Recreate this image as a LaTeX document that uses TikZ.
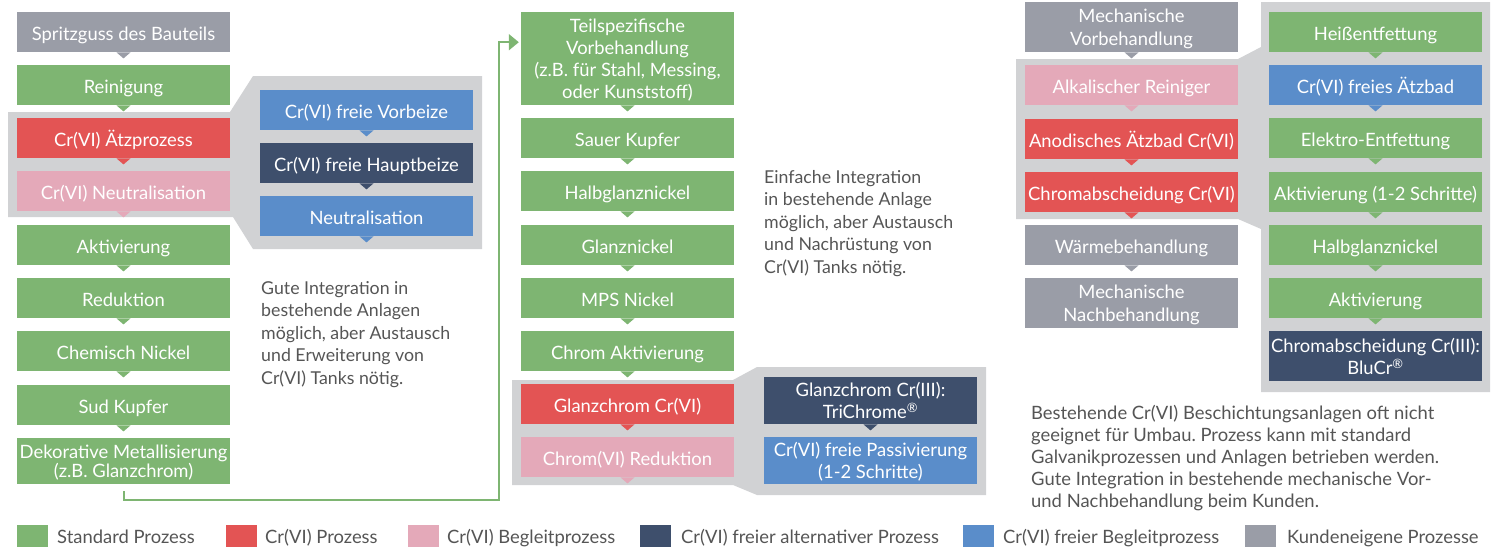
\documentclass[tikz,border=0pt]{standalone}
\usepackage{fontspec}
\setmainfont{Lato}
\usetikzlibrary{arrows.meta,calc}
\definecolor{cgreen}{HTML}{7EB572}
\definecolor{cred}{HTML}{E35454}
\definecolor{cpink}{HTML}{E4A9B9}
\definecolor{cnavy}{HTML}{3E4F6C}
\definecolor{cblue}{HTML}{5A8DCA}
\definecolor{cgray}{HTML}{9A9DA7}
\definecolor{cpanel}{HTML}{D1D2D4}
\definecolor{ctext}{HTML}{555555}
\newcommand\ptab[2]{\fill[#2] ([xshift=-7pt]#1.south) -- ([xshift=7pt]#1.south) -- ([yshift=-6pt]#1.south) -- cycle;}
\tikzset{
  box/.style={minimum width=213pt, minimum height=40pt, inner sep=0pt, text=white,
    align=center, anchor=north, text height=15.6pt, text depth=0pt,
    font=\fontsize{18.4}{21.5}\selectfont\frenchspacing},
  mbox/.style={box, text height=, text depth=-3pt},
  panel/.style={fill=cpanel},
  desc/.style={anchor=north west, inner sep=0pt, align=left, text=ctext,
    font=\fontsize{17.75}{22.5}\selectfont\frenchspacing},
  legsq/.style={anchor=north west, minimum width=31pt, minimum height=22pt, inner sep=0pt},
  legtxt/.style={anchor=base west, inner sep=0pt, text=ctext, font=\fontsize{18.4}{21}\selectfont},
  conn/.style={draw=cgreen, line width=2pt, -{Triangle[length=10pt,width=16pt]}}
}
\begin{document}
\begin{tikzpicture}[x=1pt,y=-1pt]
\useasboundingbox (0,0) rectangle (1496,547);
% panels
\fill[panel] (8,112) -- (230,112) -- (253,76) -- (482,76) -- (482,249) -- (253,249) -- (233,217) -- (8,217) -- cycle;
\fill[panel] (512,380) -- (733,380) -- (757,367) -- (986,367) -- (986,495) -- (757,495) -- (733,485) -- (512,485) -- cycle;
\fill[panel] (1016,59) -- (1238,59) -- (1261,47) -- (1261,2) -- (1490,2) -- (1490,392) -- (1261,392) -- (1261,229) -- (1238,219) -- (1016,219) -- cycle;
% column 1
\node[box, fill=cgray] (s1) at (123.5,12) {Spritzguss des Bauteils};
\node[box, fill=cgreen] (s2) at (123.5,65) {Reinigung};
\node[box, fill=cred] (s3) at (123.5,118) {Cr(VI) Ätzprozess};
\node[box, fill=cpink] (s4) at (123.5,171) {Cr(VI) Neutralisation};
\node[box, fill=cgreen] (s5) at (123.5,225) {Aktivierung};
\node[box, fill=cgreen] (s6) at (123.5,278) {Reduktion};
\node[box, fill=cgreen] (s7) at (123.5,331) {Chemisch Nickel};
\node[box, fill=cgreen] (s8) at (123.5,385) {Sud Kupfer};
\node[mbox, fill=cgreen, minimum height=46pt, font=\fontsize{18.4}{18.4}\selectfont] (s9) at (123.5,438) {Dekorative Metallisierung\\(z.B. Glanzchrom)};
\ptab{s1}{cgray}\ptab{s2}{cgreen}\ptab{s3}{cred}\ptab{s4}{cpink}\ptab{s5}{cgreen}
\ptab{s6}{cgreen}\ptab{s7}{cgreen}\ptab{s8}{cgreen}
\node[box, fill=cblue] (a1) at (366.5,90) {Cr(VI) freie Vorbeize};
\node[box, fill=cnavy] (a2) at (366.5,143) {Cr(VI) freie Hauptbeize};
\node[box, fill=cblue] (a3) at (366.5,196) {Neutralisation};
\ptab{a1}{cblue}\ptab{a2}{cnavy}\ptab{a3}{cblue}
\node[desc] (d1) at (261,281) {Gute Integration in\\bestehende Anlagen\\möglich, aber Austausch\\und Erweiterung von\\Cr(VI) Tanks nötig.};
% column 2
\node[mbox, fill=cgreen, minimum height=93pt, font=\fontsize{18.4}{22}\selectfont] (m1) at (627.5,12) {Teilspezifische\\Vorbehandlung\\(z.B. für Stahl, Messing,\\oder Kunststoff)};
\node[box, fill=cgreen] (m2) at (627.5,118) {Sauer Kupfer};
\node[box, fill=cgreen] (m3) at (627.5,171) {Halbglanznickel};
\node[box, fill=cgreen] (m4) at (627.5,225) {Glanznickel};
\node[box, fill=cgreen] (m5) at (627.5,278) {MPS Nickel};
\node[box, fill=cgreen] (m6) at (627.5,331) {Chrom Aktivierung};
\node[box, fill=cred] (m7) at (627.5,384) {Glanzchrom Cr(VI)};
\node[box, fill=cpink] (m8) at (627.5,437) {Chrom(VI) Reduktion};
\ptab{m1}{cgreen}\ptab{m2}{cgreen}\ptab{m3}{cgreen}\ptab{m4}{cgreen}\ptab{m5}{cgreen}
\ptab{m6}{cgreen}\ptab{m7}{cred}\ptab{m8}{cpink}
\node[mbox, fill=cnavy, minimum height=47pt, font=\fontsize{18.4}{22}\selectfont] (b1) at (870.5,377) {Glanzchrom Cr(III):\\TriChrome\textsuperscript{®}};
\node[mbox, fill=cblue, minimum height=47pt, font=\fontsize{18.4}{22}\selectfont] (b2) at (870.5,437) {Cr(VI) freie Passivierung\\(1-2 Schritte)};
\ptab{b1}{cnavy}
\node[desc] (d2) at (764,170) {Einfache Integration\\in bestehende Anlage\\möglich, aber Austausch\\und Nachrüstung von\\Cr(VI) Tanks nötig.};
% column 3
\node[mbox, fill=cgray, minimum height=50pt, font=\fontsize{18.4}{22.5}\selectfont] (r1) at (1131.5,2) {Mechanische\\Vorbehandlung};
\node[box, fill=cpink] (r2) at (1131.5,65) {Alkalischer Reiniger};
\node[box, fill=cred] (r3) at (1131.5,119) {Anodisches Ätzbad Cr(VI)};
\node[box, fill=cred] (r4) at (1131.5,172) {Chromabscheidung Cr(VI)};
\node[box, fill=cgray] (r5) at (1131.5,225) {Wärmebehandlung};
\node[mbox, fill=cgray, minimum height=50pt, font=\fontsize{18.4}{22.5}\selectfont] (r6) at (1131.5,278) {Mechanische\\Nachbehandlung};
\ptab{r1}{cgray}\ptab{r2}{cpink}\ptab{r3}{cred}\ptab{r4}{cred}\ptab{r5}{cgray}
\node[box, fill=cgreen] (t1) at (1375.5,12) {Heißentfettung};
\node[box, fill=cblue] (t2) at (1375.5,65) {Cr(VI) freies Ätzbad};
\node[box, fill=cgreen] (t3) at (1375.5,118) {Elektro-Entfettung};
\node[box, fill=cgreen] (t4) at (1375.5,172) {Aktivierung (1-2 Schritte)};
\node[box, fill=cgreen] (t5) at (1375.5,225) {Halbglanznickel};
\node[box, fill=cgreen] (t6) at (1375.5,278) {Aktivierung};
\node[mbox, fill=cnavy, minimum height=50pt, font=\fontsize{18.4}{22.5}\selectfont] (t7) at (1375.5,331) {Chromabscheidung Cr(III):\\BluCr\textsuperscript{®}};
\ptab{t1}{cgreen}\ptab{t2}{cblue}\ptab{t3}{cgreen}\ptab{t4}{cgreen}\ptab{t5}{cgreen}\ptab{t6}{cgreen}
\node[desc, font=\fontsize{18.4}{22}\selectfont\frenchspacing] (d3) at (1031,405) {Bestehende Cr(VI) Beschichtungsanlagen oft nicht\\geeignet für Umbau. Prozess kann mit standard\\Galvanikprozessen und Anlagen betrieben werden.\\Gute Integration in bestehende mechanische Vor-\\und Nachbehandlung beim Kunden.};
% connector
\coordinate (c0) at ([yshift=-7pt]s9.south);
\coordinate (c1) at (499,500);
\draw[conn] (c0) |- (c1) |- ([xshift=-2pt,yshift=16.5pt]m1.west);
% legend
\node[legsq, fill=cgreen] (q1) at (17,525) {};
\node[legtxt] (l1) at (57,543) {Standard Prozess};
\node[legsq, fill=cred] (q2) at (226,525) {};
\node[legtxt] (l2) at (265,543) {Cr(VI) Prozess};
\node[legsq, fill=cpink] (q3) at (408,525) {};
\node[legtxt] (l3) at (447,543) {Cr(VI) Begleitprozess};
\node[legsq, fill=cnavy] (q4) at (640,525) {};
\node[legtxt] (l4) at (681,543) {Cr(VI) freier alternativer Prozess};
\node[legsq, fill=cblue] (q5) at (963,525) {};
\node[legtxt] (l5) at (1003,543) {Cr(VI) freier Begleitprozess};
\node[legsq, fill=cgray] (q6) at (1245,525) {};
\node[legtxt] (l6) at (1287,543) {Kundeneigene Prozesse};
\end{tikzpicture}
\end{document}
